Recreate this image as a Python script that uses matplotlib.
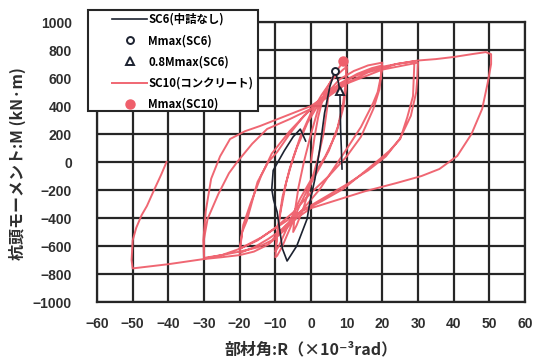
import matplotlib
matplotlib.use("Agg")
import matplotlib.pyplot as plt
from matplotlib.patches import Rectangle

# ---- data (R: x10^-3 rad, M: kN·m) ----
sc10_R = [0, 1, 2, 3, 4, 5,
          4.5, 3.5, 2, 0, -2, -4, -5,
          -4.5, -3.5, -2, 0, 2, 4, 6, 8, 9, 10,
          9.7, 9, 7.5, 5, 2, 0, -3, -6, -8, -9.5, -10,
          -9.5, -8.5, -7, -5, -3, 0, 3, 6, 9, 10,
          9.8, 9, 7, 4, 0.6, -3, -6, -9, -10,
          -9.3, -8, -6, -4, -1, 3, 8, 12, 16, 20,
          19.5, 18.7, 17.4, 14, 10, 6, 2.5, -3, -8, -12, -16, -20,
          -19.3, -18, -15, -12, -9.5, -6, -2, 3, 8, 13, 17, 20,
          19.2, 17.5, 14, 10, 5, 0, -5, -10, -15, -20,
          -19, -17, -14, -11, -6, 0, 6, 12, 18, 24, 29,
          28.8, 28.6, 27, 25, 22, 19.3, 14, 9, 3, -3, -7, -11, -15, -20, -25, -30,
          -30, -29, -26, -23, -20.7, -16.5, -12.3, -5.9, 0, 10, 20, 30,
          29.8, 29.5, 28, 25, 21, 16, 10, 4, -2, -8, -14, -20, -25, -30,
          -30.2, -29.5, -28, -25.5, -22.7, -18.5, -14.3, -7, 0, 8, 16, 24, 30,
          35, 40, 45, 49, 50.5, 50.5, 49.5, 48, 45, 41, 36, 31, 24, 15, 5, 0, -4, -8, -12, -16, -20, -25, -30, -40, -50,
          -50.3, -50, -49, -47.5, -46, -44, -42, -40.5]
sc10_M = [0, 180, 320, 420, 480, 520,
          380, 200, 30, -150, -320, -450, -500,
          -350, -180, 0, 200, 380, 500, 600, 680, 715, 715,
          560, 420, 250, 80, -60, -150, -300, -480, -600, -670, -680,
          -520, -350, -150, 30, 180, 350, 480, 590, 660, 680,
          520, 380, 200, 40, -100, -260, -430, -600, -640,
          -470, -250, -50, 100, 280, 450, 590, 650, 690, 710,
          600, 500, 420, 250, 93, -60, -193, -360, -480, -550, -610, -650,
          -500, -420, -143, 0, 71, 200, 330, 450, 560, 630, 670, 690,
          520, 380, 180, 40, -100, -220, -360, -470, -560, -620,
          -450, -300, -100, 60, 220, 380, 520, 610, 670, 700, 720,
          600, 470, 320, 164, 80, 21, -90, -193, -280, -357, -450, -560, -610, -640, -665, -685,
          -550, -407, -230, -80, 0, 130, 236, 307, 380, 560, 660, 710,
          600, 500, 330, 170, 40, -60, -160, -250, -340, -440, -540, -620, -665, -690,
          -560, -350, -120, 40, 164, 220, 257, 330, 400, 540, 640, 700, 725,
          735, 750, 770, 785, 770, 700, 560, 380, 200, 43, -50, -100, -150, -210, -290, -330, -400, -500, -590, -640, -665, -680, -693, -730, -760,
          -700, -560, -470, -380, -314, -200, -90, 0]

sc6_R = [-1.5, -3, -5, -7.5, -9.5, -10.6, -11, -10.5, -9.5, -8, -6.7, -5.5, -4,
         -2.5, -1.1, -0.3, 1.1, 2.5, 3.8, 5.3, 6.7, 7.6, 8.1, 8.2, 8.3, 8.5, 8.7]
sc6_M = [150, 235, 180, 80, -10, -60, -193, -270, -357, -620, -707, -660, -600,
         -500, -407, -286, -121, 100, 350, 540, 650, 580, 507, 380, 235, 100, -50]

mmax_sc6 = (6.7, 650)
m08_sc6 = (8.1, 507)
mmax_sc10 = (9.0, 725)

x_ticks = list(range(-60, 61, 10))
y_ticks = list(range(-1000, 1001, 200))

labels = ["SC6(中詰なし)", "Mmax(SC6)", "0.8Mmax(SC6)", "SC10(コンクリート)", "Mmax(SC10)"]
xlabel = "部材角:R（×10⁻³rad）"
ylabel = "杭頭モーメント:M (kN·m)"

RED = "#ef5f6b"
BLACK = "#1c2230"
GRID = "#262626"

W, H = 533, 358
fig = plt.figure(figsize=(W / 100, H / 100), dpi=100)
ax = fig.add_axes([97 / W, 1 - 302 / H, 428 / W, 280 / H])

ax.plot(sc6_R, sc6_M, color=BLACK, lw=1.2, zorder=4, label=labels[0])
ax.plot([mmax_sc6[0]], [mmax_sc6[1]], ls="none", marker="o", ms=5, mfc="white",
        mec=BLACK, mew=1.4, zorder=6, label=labels[1])
ax.plot([m08_sc6[0]], [m08_sc6[1]], ls="none", marker="^", ms=5.5, mfc="white",
        mec=BLACK, mew=1.4, zorder=6, label=labels[2])
ax.plot(sc10_R, sc10_M, color=RED, lw=1.4, zorder=3, alpha=0.95, label=labels[3])
ax.plot([mmax_sc10[0]], [mmax_sc10[1]], ls="none", marker="o", ms=6.5, mfc=RED,
        mec=RED, zorder=6, label=labels[4])

ax.set_xlim(-60, 60)
ax.set_ylim(-1000, 1000)
ax.set_xticks(x_ticks)
ax.set_yticks(y_ticks)
ax.grid(True, color=GRID, lw=1.6, zorder=1)
ax.set_axisbelow(True)
for s in ax.spines.values():
    s.set_color(GRID)
    s.set_linewidth(1.6)
ax.tick_params(length=0)
ax.tick_params(axis="x", pad=11)
ax.tick_params(axis="y", pad=18)
for t in ax.get_xticklabels() + ax.get_yticklabels():
    t.set_family("Liberation Sans")
    t.set_fontweight("bold")
    t.set_fontsize(10)
    t.set_color("#2e2e2e")

fam = ["Noto Sans CJK JP", "DejaVu Sans"]
fig.text(311 / W, 1 - 349 / H, xlabel, ha="center", va="center", family=fam,
         fontweight="bold", fontsize=11.5, color="#2e2e2e")
fig.text(17 / W, 1 - 164 / H, ylabel, ha="center", va="center", rotation=90,
         family=fam, fontweight="bold", fontsize=11.5, color="#2e2e2e")

# legend box
rect = Rectangle((88 / W, 1 - 111 / H), 170 / W, 101 / H, transform=fig.transFigure,
                 facecolor="white", edgecolor=GRID, lw=1.5, zorder=4)
fig.patches.append(rect)
h, l = ax.get_legend_handles_labels()
leg = fig.legend(h, l, loc="upper left", bbox_to_anchor=(112 / W, 1 - 13 / H),
                 frameon=False, borderpad=0, borderaxespad=0, handlelength=3.1,
                 handletextpad=0.1, labelspacing=0.72,
                 prop={"family": fam, "weight": "bold", "size": 8.2})
leg.set_zorder(6)

fig.savefig("out.png", dpi=100, facecolor="white")
